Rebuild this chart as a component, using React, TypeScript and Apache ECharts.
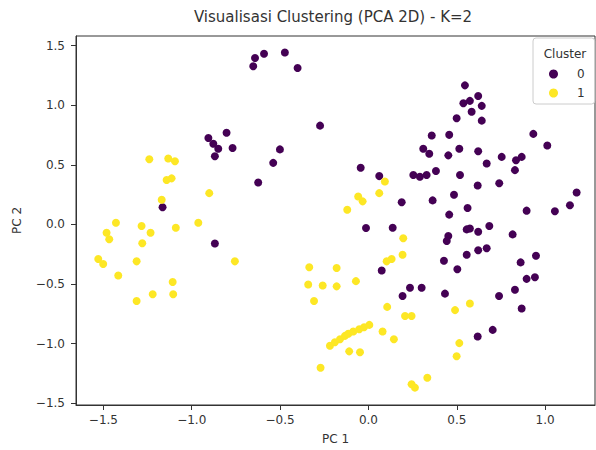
import React, { useEffect, useRef } from "react";
import * as echarts from "echarts";

const titleText = "Visualisasi Clustering (PCA 2D) - K=2";
const xName = "PC 1";
const yName = "PC 2";
const legendTitle = "Cluster";
const clusterNames = ["0", "1"];
const clusterColors = ["#440154", "#fde725"];

const cluster0: number[][] = [
  [-0.652, 1.327], [-0.642, 1.396], [-0.591, 1.432], [-0.473, 1.443], [-0.401, 1.313],
  [-0.274, 0.829], [-0.803, 0.769], [-0.906, 0.725], [-0.878, 0.677], [-0.85, 0.636],
  [-0.769, 0.642], [-0.869, 0.572], [-0.501, 0.63], [-0.539, 0.517], [-0.624, 0.352],
  [-1.165, 0.144], [-0.869, -0.16], [-0.044, 0.476], [0.061, 0.406], [0.188, 0.186],
  [0.358, 0.746], [0.31, 0.636], [0.344, 0.594], [0.452, 0.58], [0.457, 0.752],
  [0.254, 0.415], [0.291, 0.401], [0.329, 0.415], [0.382, 0.448], [0.363, 0.202],
  [0.457, 0.083], [-0.014, -0.03], [0.137, -0.027], [0.546, 1.167], [0.537, 1.017],
  [0.574, 1.037], [0.621, 1.078], [0.641, 0.995], [0.584, 0.945], [0.499, 0.891],
  [0.641, 0.871], [0.933, 0.76], [1.012, 0.663], [0.514, 0.636], [0.621, 0.614],
  [0.669, 0.512], [0.754, 0.567], [0.835, 0.539], [0.867, 0.567], [0.829, 0.456],
  [0.518, 0.415], [0.618, 0.327], [0.74, 0.346], [1.178, 0.269], [0.484, 0.249],
  [1.14, 0.161], [1.055, 0.111], [0.895, 0.116], [0.561, 0.138], [0.684, -0.013],
  [0.556, -0.041], [0.574, -0.033], [0.621, -0.061], [0.816, -0.083], [0.452, -0.096],
  [0.443, -0.138], [0.621, -0.216], [0.669, -0.199], [0.556, -0.254], [0.948, -0.262],
  [0.427, -0.304], [0.503, -0.376], [0.861, -0.318], [0.895, -0.456], [0.942, -0.442],
  [0.829, -0.547], [0.739, -0.6], [0.433, -0.58], [0.867, -0.705], [0.703, -0.884],
  [0.618, -0.94], [0.075, -0.386], [0.235, -0.531], [0.193, -0.6], [0.301, -0.531],
];

const cluster1: number[][] = [
  [-1.24, 0.547], [-1.133, 0.553], [-1.095, 0.531], [-1.142, 0.373], [-1.114, 0.387],
  [-0.901, 0.263], [-1.17, 0.207], [-1.429, 0.014], [-1.284, -0.013], [-1.09, -0.027],
  [-0.963, 0.014], [-1.482, -0.069], [-1.467, -0.124], [-1.233, -0.069], [-1.28, -0.157],
  [-1.529, -0.29], [-1.501, -0.332], [-1.312, -0.309], [-0.756, -0.309], [-1.416, -0.428],
  [-1.108, -0.483], [-1.221, -0.585], [-1.105, -0.585], [-1.312, -0.641], [0.093, 0.36],
  [0.061, 0.263], [-0.058, 0.235], [-0.033, 0.194], [-0.12, 0.124], [0.197, -0.116],
  [0.193, -0.254], [0.103, -0.309], [0.131, -0.29], [-0.335, -0.359], [-0.18, -0.365],
  [-0.341, -0.503], [-0.259, -0.511], [-0.18, -0.519], [-0.071, -0.475], [-0.308, -0.641],
  [0.106, -0.691], [0.207, -0.768], [0.244, -0.768], [-0.218, -1.017], [-0.19, -0.987],
  [-0.161, -0.962], [-0.133, -0.934], [-0.114, -0.917], [-0.086, -0.898], [-0.052, -0.879],
  [-0.025, -0.862], [0.005, -0.842], [0.08, -0.898], [0.144, -0.962], [-0.109, -1.064],
  [-0.048, -1.072], [-0.271, -1.202], [0.244, -1.34], [0.263, -1.368], [0.333, -1.285],
  [0.574, -0.663], [0.49, -0.718], [0.514, -0.995], [0.499, -1.105],
];

const xMin = -1.655;
const xMax = 1.282;
const yMin = -1.514;
const yMax = 1.581;

export default function App() {
  const ref = useRef<HTMLDivElement>(null);
  useEffect(() => {
    if (!ref.current) return;
    const chart = echarts.init(ref.current, null, { renderer: "svg" });
    const font = "DejaVu Sans";
    const axisCommon = {
      axisLine: { show: true, onZero: false, lineStyle: { color: "#333", width: 1 } },
      axisTick: { show: true, inside: false, length: 5, lineStyle: { color: "#333" } },
      splitLine: { show: false },
      nameLocation: "middle" as const,
      nameTextStyle: { fontFamily: font, fontSize: 12, color: "#333" },
    };
    chart.setOption({
      animation: false,
      backgroundColor: "#fff",
      textStyle: { fontFamily: font },
      title: {
        text: titleText,
        left: 328,
        top: 4,
        textAlign: "center",
        textStyle: { fontFamily: font, fontSize: 15, fontWeight: "normal", color: "#333" },
      },
      grid: {
        left: 76,
        right: 1,
        top: 36,
        bottom: 41,
        show: true,
        borderColor: "#333",
        borderWidth: 1,
        containLabel: false,
      },
      legend: {
        orient: "vertical",
        left: 533,
        top: 38,
        padding: [30, 10, 5, 16],
        itemGap: 7,
        itemWidth: 9,
        itemHeight: 9,
        icon: "circle",
        backgroundColor: "rgba(255,255,255,0.8)",
        borderColor: "#ccc",
        borderWidth: 1,
        borderRadius: 3,
        textStyle: { fontFamily: font, fontSize: 12, color: "#333", lineHeight: 12, padding: [0, 0, 0, 14] },
        data: clusterNames,
      },
      graphic: [
        {
          type: "text",
          x: 565,
          y: 54,
          z: 100,
          style: {
            text: legendTitle,
            align: "center",
            verticalAlign: "middle",
            fontFamily: font,
            fontSize: 12,
            fill: "#333",
          },
        },
      ],
      xAxis: {
        type: "value",
        min: xMin,
        max: xMax,
        splitNumber: 6,
        name: xName,
        nameGap: 28,
        ...axisCommon,
        axisLabel: {
          showMinLabel: false,
          showMaxLabel: false,
          margin: 9,
          fontFamily: font,
          fontSize: 12,
          color: "#333",
          formatter: (v: number) => v.toFixed(1).replace("-", "\u2212"),
        },
      },
      yAxis: {
        type: "value",
        min: yMin,
        max: yMax,
        splitNumber: 6,
        name: yName,
        nameGap: 53,
        ...axisCommon,
        axisLabel: {
          showMinLabel: false,
          showMaxLabel: false,
          margin: 11,
          fontFamily: font,
          fontSize: 12,
          color: "#333",
          formatter: (v: number) => v.toFixed(1).replace("-", "\u2212"),
        },
      },
      series: [
        {
          name: clusterNames[0],
          type: "scatter",
          data: cluster0,
          symbolSize: 8,
          itemStyle: { color: clusterColors[0], opacity: 1 },
        },
        {
          name: clusterNames[1],
          type: "scatter",
          data: cluster1,
          symbolSize: 8,
          itemStyle: { color: clusterColors[1], opacity: 1 },
        },
      ],
    });
    return () => chart.dispose();
  }, []);
  return <div ref={ref} style={{ width: 596, height: 450, position: "absolute", left: 0, top: 0 }} />;
}
